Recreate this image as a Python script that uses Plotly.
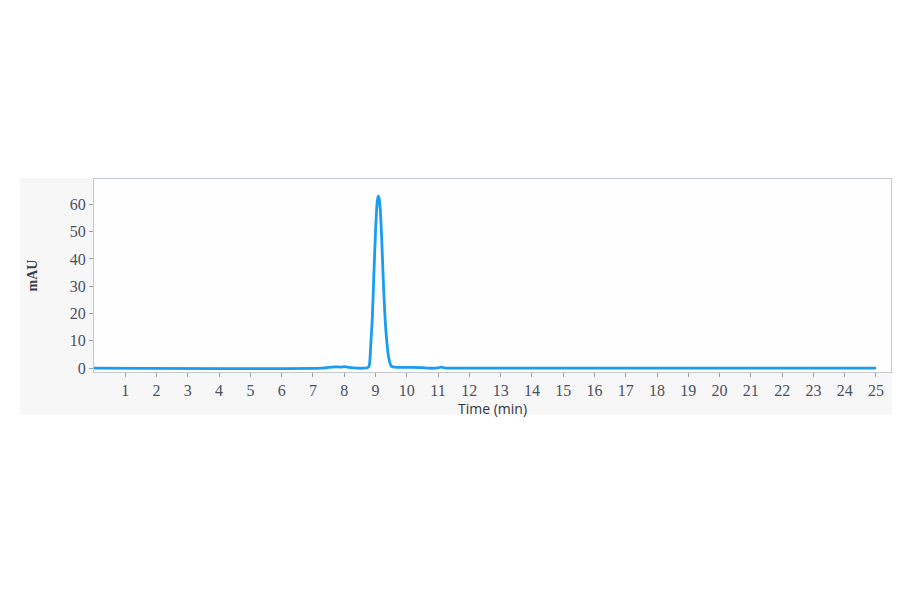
import plotly.graph_objects as go

# chromatogram trace
time_min = [0, 7.3, 7.5, 7.7, 7.9, 8.0, 8.1, 8.3, 8.6, 8.75,
            8.8, 8.85, 8.9, 8.95, 9.0, 9.03, 9.06, 9.09, 9.12, 9.15,
            9.18, 9.21, 9.26, 9.33, 9.42, 9.5, 9.6, 10.0, 10.5, 10.7,
            11.0, 11.1, 11.2, 11.4, 25]
mau = [0, 0, 0.3, 0.5, 0.4, 0.6, 0.4, 0.1, 0, 0.2,
       1.0, 9, 19, 35, 50, 57, 61.5, 63, 62, 58.5,
       52, 44, 29, 14, 4, 0.8, 0.4, 0.3, 0.2, 0,
       0.1, 0.4, 0.1, 0, 0]

x_ticks = list(range(1, 26))
y_ticks = [0, 10, 20, 30, 40, 50, 60]

trace = go.Scatter(x=time_min, y=mau, mode="lines",
                   line=dict(color="#1a9cf2", width=2.8, shape="spline", smoothing=0.6),
                   hoverinfo="x+y")

# page body has an 8px margin, so the figure is a bit smaller than the window
layout = go.Layout(
    width=884, height=578,
    paper_bgcolor="white",
    plot_bgcolor="rgba(0,0,0,0)",
    margin=dict(l=86, r=1, t=171, b=214),
    showlegend=False,
    xaxis=dict(range=[0, 25.48], tickvals=x_ticks,
               ticks="outside", ticklen=4, tickcolor="#9aa0aa",
               showgrid=False, zeroline=False,
               showline=True, linecolor="#c3c7ce", linewidth=1, mirror=True,
               tickfont=dict(family="Liberation Serif", size=16, color="#4a5160"),
               title=dict(text="Time (min)", standoff=1,
                          font=dict(family="Open Sans", size=14, color="#2f3542"))),
    yaxis=dict(range=[-1.4, 69.3], tickvals=y_ticks,
               ticks="outside", ticklen=4, tickcolor="#9aa0aa",
               showgrid=False, zeroline=False,
               showline=True, linecolor="#c3c7ce", linewidth=1, mirror=True,
               tickfont=dict(family="Liberation Serif", size=16, color="#4a5160"),
               title=dict(text="<b>mAU</b>", standoff=28,
                          font=dict(family="Liberation Serif", size=14, color="#3a4150"))),
)

fig = go.Figure(data=[trace], layout=layout)

# faint grey panel behind the chart, white plot area on top of it
fig.add_shape(type="rect", xref="paper", yref="paper",
              x0=-0.093, x1=1.006, y0=-0.222, y1=1.005,
              fillcolor="#f7f7f8", line=dict(width=0), layer="below")
fig.add_shape(type="rect", xref="paper", yref="paper",
              x0=0, x1=1, y0=0, y1=1,
              fillcolor="#fefefe", line=dict(width=0), layer="below")

fig.write_html("out.html")
